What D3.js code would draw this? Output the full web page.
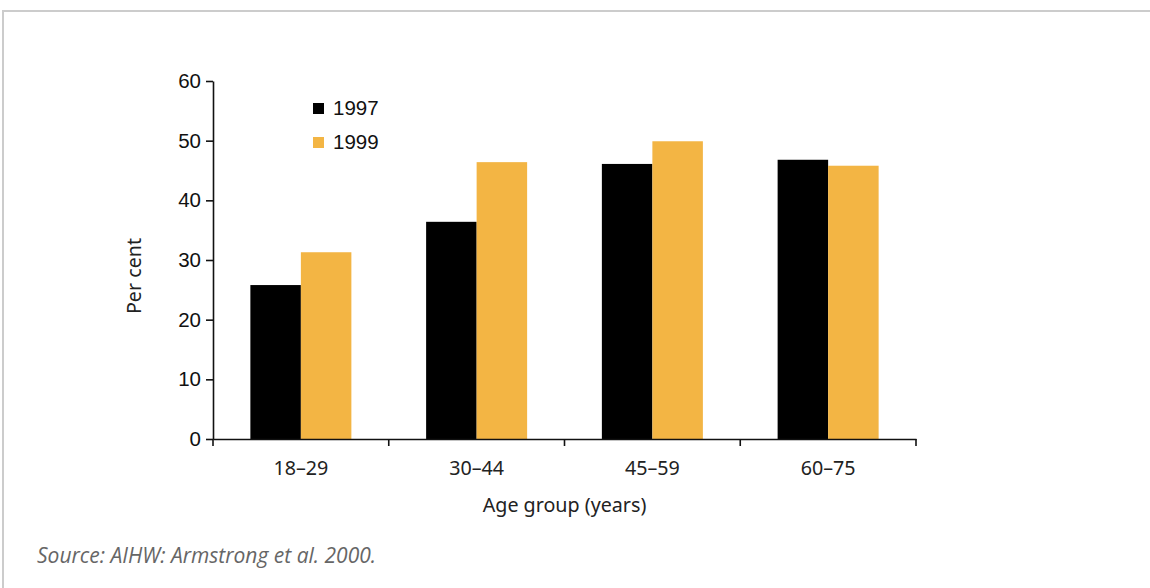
<!DOCTYPE html>
<html>
<head>
<meta charset="utf-8">
<script src="https://cdn.jsdelivr.net/npm/d3@7"></script>
<style>
  html, body { margin: 0; padding: 0; background: #fff; }
  svg { display: block; }
</style>
</head>
<body>
<svg id="chart" width="1150" height="588"></svg>
<script>
// Data
const categories = ["18–29", "30–44", "45–59", "60–75"];
const seriesNames = ["1997", "1999"];
const values1997 = [25.8, 36.4, 46.1, 46.8];
const values1999 = [31.3, 46.4, 49.9, 45.8];
const yTicks = [0, 10, 20, 30, 40, 50, 60];
const seriesColors = ["#000000", "#f3b544"];

(function () {
const svg = d3.select("#chart");

// Frame
svg.append("rect")
  .attr("x", 3).attr("y", 11)
  .attr("width", 1160).attr("height", 600)
  .attr("fill", "#fff")
  .attr("stroke", "#cccccc")
  .attr("stroke-width", 2);

const plotLeft = 213, plotRight = 916, plotTop = 81, plotBottom = 439;

const x = d3.scaleBand().domain(categories).range([plotLeft, plotRight]).padding(0);
const xi = d3.scaleBand().domain(seriesNames).range([0, x.bandwidth()])
  .paddingInner(0).paddingOuter(0.74);
const y = d3.scaleLinear().domain([0, 60]).range([plotBottom, plotTop]);

const rows = categories.map((c, i) => ({ cat: c, vals: [values1997[i], values1999[i]] }));

// Bars
const g = svg.append("g");
rows.forEach(r => {
  r.vals.forEach((v, j) => {
    g.append("rect")
      .attr("x", x(r.cat) + xi(seriesNames[j]))
      .attr("y", y(v))
      .attr("width", xi.bandwidth())
      .attr("height", y(0) - y(v))
      .attr("fill", seriesColors[j]);
  });
});

// Y axis
const yAxis = svg.append("g")
  .attr("transform", `translate(${plotLeft},0)`)
  .call(d3.axisLeft(y).tickValues(yTicks).tickSize(7).tickSizeOuter(0).tickPadding(5));
yAxis.select(".domain").attr("stroke", "#111").attr("stroke-width", 1.6);
yAxis.selectAll(".tick line").attr("stroke", "#111").attr("stroke-width", 1.6);
yAxis.selectAll(".tick text")
  .attr("font-family", "'Liberation Sans', Arial, sans-serif")
  .attr("font-size", 20.5).attr("fill", "#111");

// X axis: labels at band centres, ticks at band edges
const xAxis = svg.append("g")
  .attr("transform", `translate(0,${plotBottom})`)
  .call(d3.axisBottom(x).tickSize(0).tickSizeOuter(0).tickPadding(22));
xAxis.select(".domain").attr("stroke", "#111").attr("stroke-width", 1.6);
xAxis.selectAll(".tick text")
  .attr("dy", null)
  .attr("y", 36)
  .attr("font-family", "'Noto Sans', sans-serif")
  .attr("font-size", 19.7).attr("fill", "#222");

const edges = categories.map(c => x(c)).concat([x(categories[categories.length - 1]) + x.bandwidth()]);
xAxis.selectAll(".edge").data(edges).enter().append("line")
  .attr("class", "edge")
  .attr("x1", d => d).attr("x2", d => d)
  .attr("y1", 0).attr("y2", 7)
  .attr("stroke", "#111").attr("stroke-width", 1.6);

// Axis titles
svg.append("text")
  .attr("x", (plotLeft + plotRight) / 2).attr("y", 512)
  .attr("text-anchor", "middle")
  .attr("font-family", "'Noto Sans', sans-serif")
  .attr("font-size", 19.7).attr("fill", "#222")
  .text("Age group (years)");

svg.append("text")
  .attr("transform", "translate(141,276) rotate(-90)")
  .attr("text-anchor", "middle")
  .attr("font-family", "'Noto Sans', sans-serif")
  .attr("font-size", 19.7).attr("fill", "#222")
  .text("Per cent");

// Legend
const legend = svg.append("g").attr("transform", "translate(313,103)");
seriesNames.forEach((s, i) => {
  const row = legend.append("g").attr("transform", `translate(0,${i * 34})`);
  row.append("rect").attr("width", 11).attr("height", 11).attr("fill", seriesColors[i]);
  row.append("text")
    .attr("x", 20).attr("y", 12)
    .attr("font-family", "'Liberation Sans', Arial, sans-serif")
    .attr("font-size", 20.5).attr("fill", "#111")
    .text(s);
});

// Source note
svg.append("text")
  .attr("x", 37).attr("y", 563)
  .attr("font-family", "'Open Sans', sans-serif")
  .attr("font-style", "italic")
  .attr("font-size", 21).attr("fill", "#666")
  .text("Source: AIHW: Armstrong et al. 2000.");
})();
</script>
</body>
</html>
